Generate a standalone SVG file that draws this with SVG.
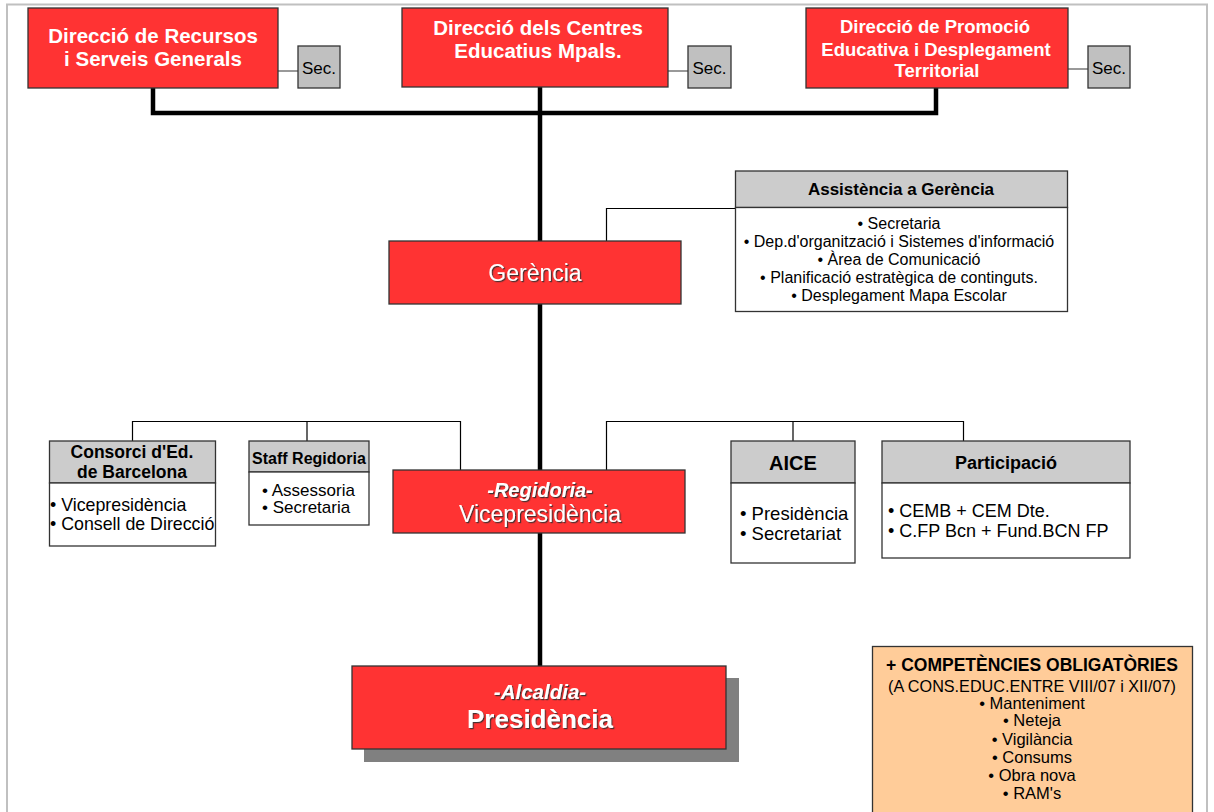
<svg xmlns="http://www.w3.org/2000/svg" width="1214" height="812" viewBox="0 0 1214 812">
  <style>
    text { font-family: "Liberation Sans", Arial, sans-serif; }
    .red { fill: #ff3333; stroke: #333333; stroke-width: 1.3; }
    .sec { fill: #c0c0c0; stroke: #333333; stroke-width: 1.3; }
    .hdr { fill: #cccccc; stroke: #333333; stroke-width: 1.3; }
    .body { fill: #ffffff; stroke: #333333; stroke-width: 1.3; }
    .thick { fill: none; stroke: #000000; stroke-width: 4.5; }
    .thin { fill: none; stroke: #000000; stroke-width: 1.2; }
    .wt { fill: #ffffff; font-weight: bold; text-anchor: middle; }
    .ws { fill: #ffffff; text-anchor: middle; filter: url(#tshadow); }
    .st { fill: #000000; font-size: 17px; text-anchor: middle; }
    .ht { fill: #000000; font-weight: bold; text-anchor: middle; }
    .bt { fill: #000000; }
  </style>
  <defs>
    <filter id="tshadow" x="-10%" y="-20%" width="120%" height="150%">
      <feDropShadow dx="1.2" dy="1.2" stdDeviation="0.4" flood-color="#333333" flood-opacity="0.9"/>
    </filter>
  </defs>

  <rect width="1214" height="812" fill="#ffffff"/>
  <!-- page frame -->
  <rect x="7" y="4.5" width="1200" height="830" fill="none" stroke="#c0c0c0" stroke-width="2"/>

  <!-- connectors -->
  <g id="connectors">
    <polyline class="thick" points="153,88 153,113 936,113 936,88"/>
    <line class="thick" x1="540" y1="87" x2="540" y2="666"/>
    <line x1="278" y1="71" x2="298" y2="71" stroke="#555555" stroke-width="1.2"/>
    <line x1="668" y1="71" x2="688" y2="71" stroke="#555555" stroke-width="1.2"/>
    <line x1="1068" y1="69" x2="1088" y2="69" stroke="#555555" stroke-width="1.2"/>
    <polyline class="thin" points="606.5,241 606.5,208.5 736,208.5"/>
    <polyline class="thin" points="132.5,441 132.5,421.5 460.5,421.5 460.5,470"/>
    <line class="thin" x1="307" y1="421.5" x2="307" y2="441"/>
    <polyline class="thin" points="606.5,470 606.5,421.5 963.5,421.5 963.5,441"/>
    <line class="thin" x1="793" y1="421.5" x2="793" y2="441"/>
  </g>

  <!-- top row -->
  <g id="dir-recursos">
    <rect class="red" x="28" y="8" width="250" height="80"/>
    <text class="wt" x="153" y="43" font-size="20.5">Direcció de Recursos</text>
    <text class="wt" x="153" y="66" font-size="20.5">i Serveis Generals</text>
  </g>
  <g id="sec-recursos">
    <rect class="sec" x="298" y="46" width="42" height="42"/>
    <text class="st" x="319" y="74">Sec.</text>
  </g>
  <g id="dir-centres">
    <rect class="red" x="402" y="8" width="266" height="79"/>
    <text class="wt" x="538" y="35" font-size="20.5">Direcció dels Centres</text>
    <text class="wt" x="538" y="58" font-size="20.5">Educatius Mpals.</text>
  </g>
  <g id="sec-centres">
    <rect class="sec" x="688" y="46" width="43" height="42"/>
    <text class="st" x="709.5" y="74">Sec.</text>
  </g>
  <g id="dir-promocio">
    <rect class="red" x="806" y="8" width="262" height="80"/>
    <text class="wt" x="935" y="33" font-size="18.5">Direcció de Promoció</text>
    <text class="wt" x="936" y="56" font-size="18.5">Educativa i Desplegament</text>
    <text class="wt" x="937" y="77" font-size="18.5">Territorial</text>
  </g>
  <g id="sec-promocio">
    <rect class="sec" x="1088" y="46" width="42" height="42"/>
    <text class="st" x="1109" y="74">Sec.</text>
  </g>

  <!-- Gerència -->
  <g id="gerencia">
    <rect class="red" x="389" y="241" width="292" height="63"/>
    <text class="ws" x="535" y="281" font-size="23">Gerència</text>
  </g>
  <g id="assistencia">
    <rect class="hdr" x="735.5" y="171" width="332" height="36.5"/>
    <rect class="body" x="735.5" y="207.5" width="332" height="104"/>
    <text class="ht" x="901" y="195" font-size="17">Assistència a Gerència</text>
    <g class="bt" text-anchor="middle" font-size="16">
      <text x="899" y="229">• Secretaria</text>
      <text x="899" y="247">• Dep.d'organització i Sistemes d'informació</text>
      <text x="899" y="265">• Àrea de Comunicació</text>
      <text x="899" y="283">• Planificació estratègica de continguts.</text>
      <text x="899" y="301">• Desplegament Mapa Escolar</text>
    </g>
  </g>

  <!-- Regidoria -->
  <g id="consorci">
    <rect class="hdr" x="49.5" y="441" width="166" height="42"/>
    <rect class="body" x="49.5" y="483" width="166" height="63"/>
    <text class="ht" x="132" y="458" font-size="17.5">Consorci d'Ed.</text>
    <text class="ht" x="132" y="478" font-size="17.5">de Barcelona</text>
    <text class="bt" x="50" y="511" font-size="17.8">• Vicepresidència</text>
    <text class="bt" x="50" y="530" font-size="17.8">• Consell de Direcció</text>
  </g>
  <g id="staff">
    <rect class="hdr" x="249" y="441" width="120" height="31"/>
    <rect class="body" x="249" y="472" width="120" height="53"/>
    <text class="ht" x="309" y="464" font-size="16">Staff Regidoria</text>
    <text class="bt" x="262" y="496" font-size="17">•  Assessoria</text>
    <text class="bt" x="262" y="513" font-size="17">•  Secretaria</text>
  </g>
  <g id="vicepresidencia">
    <rect class="red" x="393" y="470" width="292" height="63"/>
    <text class="ws" x="540" y="497" font-size="20" font-weight="bold" font-style="italic">-Regidoria-</text>
    <text class="ws" x="540" y="522" font-size="23">Vicepresidència</text>
  </g>
  <g id="aice">
    <rect class="hdr" x="731" y="441" width="124" height="42"/>
    <rect class="body" x="731" y="483" width="124" height="80"/>
    <text class="ht" x="793" y="470" font-size="20">AICE</text>
    <text class="bt" x="740" y="520" font-size="18.5">• Presidència</text>
    <text class="bt" x="740" y="540" font-size="18.5">• Secretariat</text>
  </g>
  <g id="participacio">
    <rect class="hdr" x="882" y="441" width="248" height="42"/>
    <rect class="body" x="882" y="483" width="248" height="75"/>
    <text class="ht" x="1006" y="469" font-size="18">Participació</text>
    <text class="bt" x="888" y="517" font-size="18">• CEMB + CEM Dte.</text>
    <text class="bt" x="888" y="537" font-size="18">• C.FP Bcn + Fund.BCN FP</text>
  </g>

  <!-- Alcaldia -->
  <g id="presidencia">
    <rect x="364" y="678" width="375" height="84" fill="#808080"/>
    <rect class="red" x="352" y="666" width="374" height="83"/>
    <text class="ws" x="540" y="699" font-size="20.5" font-weight="bold" font-style="italic">-Alcaldia-</text>
    <text class="ws" x="540" y="728" font-size="26" font-weight="bold">Presidència</text>
  </g>

  <!-- additional duties -->
  <g id="competencies">
    <rect x="872.5" y="646.5" width="320" height="180" fill="#ffcc99" stroke="#333333" stroke-width="1.3"/>
    <text class="ht" x="1032" y="671" font-size="17.5">+ COMPETÈNCIES OBLIGATÒRIES</text>
    <g class="bt" text-anchor="middle" font-size="16.5">
      <text x="1032" y="692" font-size="16.2">(A CONS.EDUC.ENTRE VIII/07 i XII/07)</text>
      <text x="1032" y="709">• Manteniment</text>
      <text x="1032" y="726">• Neteja</text>
      <text x="1032" y="745">• Vigilància</text>
      <text x="1032" y="763">• Consums</text>
      <text x="1032" y="781">• Obra nova</text>
      <text x="1032" y="799">• RAM's</text>
    </g>
  </g>
</svg>
